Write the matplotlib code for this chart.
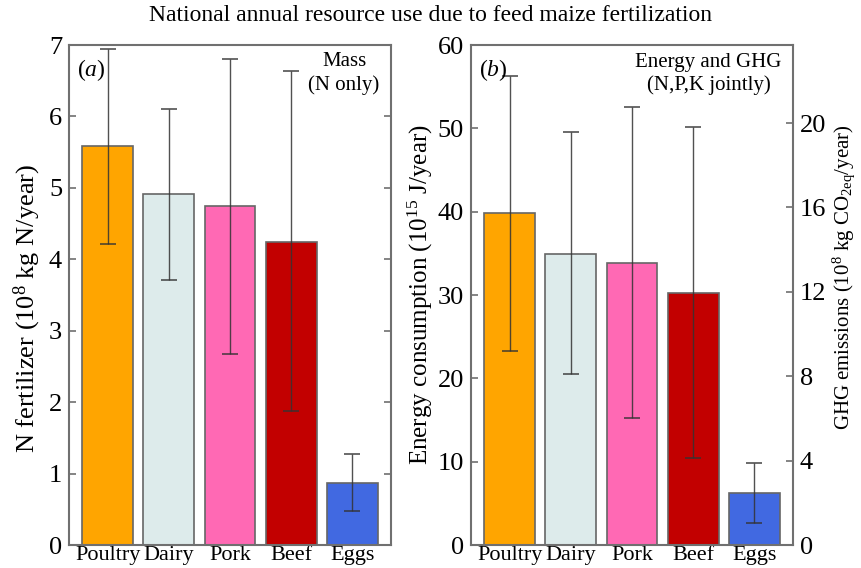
import matplotlib.pyplot as plt

plt.rcParams['font.family'] = 'Liberation Serif'
plt.rcParams['mathtext.fontset'] = 'custom'
plt.rcParams['mathtext.rm'] = 'Liberation Serif'
plt.rcParams['mathtext.it'] = 'Liberation Serif:italic'

# data
animals = ["Poultry", "Dairy", "Pork", "Beef", "Eggs"]
colors = ["#FFA500", "#DDEBEB", "#FF69B4", "#C20000", "#4169E1"]

n_fert = [5.58, 4.91, 4.74, 4.24, 0.87]
n_low = [4.22, 3.71, 2.67, 1.88, 0.48]
n_high = [6.94, 6.10, 6.81, 6.64, 1.27]

energy = [39.8, 34.9, 33.8, 30.3, 6.2]
e_low = [23.3, 20.5, 15.2, 10.5, 2.7]
e_high = [56.3, 49.6, 52.5, 50.1, 9.8]

spine_col = "#707070"

fig = plt.figure(figsize=(8.61, 5.68), dpi=100)
ax1 = fig.add_axes([69 / 861, 23 / 568, 322 / 861, 500 / 568])
ax2 = fig.add_axes([471 / 861, 23 / 568, 322 / 861, 500 / 568])

x = list(range(len(animals)))


def draw(ax, vals, lo, hi):
    err = [[v - l for v, l in zip(vals, lo)], [h - v for v, h in zip(vals, hi)]]
    ax.bar(x, vals, width=0.83, color=colors, edgecolor="#666666", linewidth=1.2)
    ax.errorbar(x, vals, yerr=err, fmt="none", ecolor="#333333",
                elinewidth=1.0, capsize=6, capthick=1.2, alpha=0.85)
    ax.set_xlim(-0.63, 4.63)
    ax.set_xticks(x)
    ax.set_xticklabels(animals, fontsize=16)
    ax.tick_params(axis="x", length=0, pad=1)
    ax.tick_params(axis="y", direction="in", length=5, color=spine_col,
                   labelsize=19, width=1.2, pad=5)
    for s in ax.spines.values():
        s.set_color(spine_col)
        s.set_linewidth(1.5)


draw(ax1, n_fert, n_low, n_high)
ax1.set_ylim(0, 7)
ax1.set_yticks(range(0, 8))
ax1.tick_params(axis="y", right=True)
ax1.set_ylabel("N fertilizer (10$^8$ kg N/year)", fontsize=19, labelpad=4)
ax1.yaxis.label.set_y(0.474)
ax1.text(0.025, 0.975, "($a$)", transform=ax1.transAxes, fontsize=17,
         ha="left", va="top")
ax1.text(0.965, 0.985, "Mass\n(N only)", transform=ax1.transAxes,
         fontsize=15, ha="right", va="top", linespacing=1.25, multialignment="center")

draw(ax2, energy, e_low, e_high)
ax2.set_ylim(0, 60)
ax2.set_yticks(range(0, 61, 10))
ax2.set_ylabel("Energy consumption (10$^{15}$ J/year)", fontsize=18, labelpad=2)
ax2.text(0.025, 0.975, "($b$)", transform=ax2.transAxes, fontsize=17,
         ha="left", va="top")
ax2.text(0.965, 0.985, "Energy and GHG\n(N,P,K jointly)", transform=ax2.transAxes,
         fontsize=15, ha="right", va="top", linespacing=1.25, multialignment="center")

# GHG axis is proportional to energy
ax3 = ax2.twinx()
ax3.set_ylim(0, 60 * 0.395)
ax3.set_yticks(range(0, 21, 4))
ax3.tick_params(axis="y", direction="in", length=5, color=spine_col,
                labelsize=19, width=1.2, pad=5)
for s in ax3.spines.values():
    s.set_visible(False)
ax3.set_ylabel("GHG emissions (10$^8$ kg CO$_{2\\mathrm{eq}}$/year)",
               fontsize=15, labelpad=3)
ax3.yaxis.label.set_y(0.536)

fig.text(0.5, 0.973, "National annual resource use due to feed maize fertilization",
         fontsize=17, ha="center", va="center")

fig.savefig("out.png", dpi=100)
